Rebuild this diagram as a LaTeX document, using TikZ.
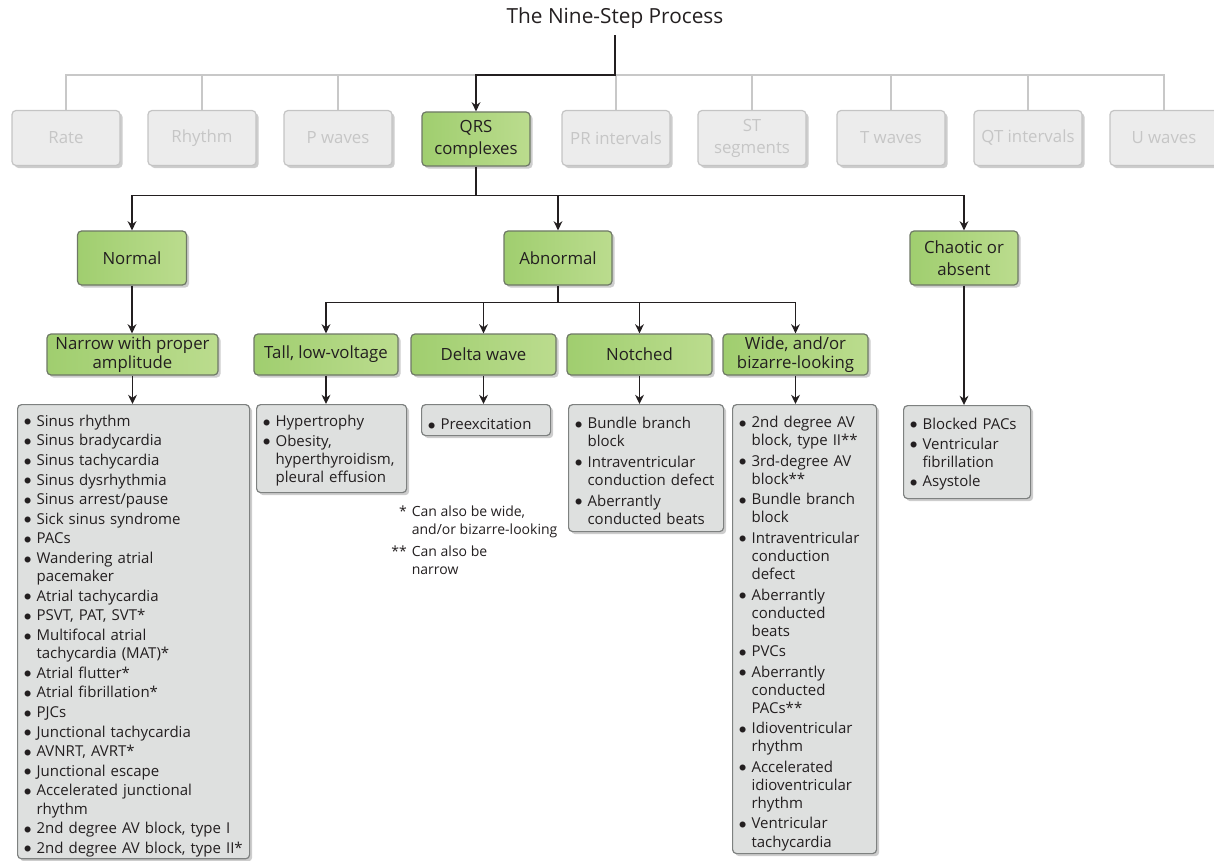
\documentclass[tikz,border=0pt]{standalone}
\usepackage{fontspec}
\setmainfont{Open Sans}
\usepackage{xcolor}
\usetikzlibrary{arrows.meta,shadows,positioning}

\definecolor{ink}{HTML}{231F20}
\definecolor{greyline}{HTML}{C8C8C8}
\definecolor{greyfill}{HTML}{ECECEC}
\definecolor{greyedge}{HTML}{C4C4C4}
\definecolor{greytext}{HTML}{C6C6C6}
\definecolor{greenL}{HTML}{A0CE6F}
\definecolor{greenR}{HTML}{BBDC8E}
\definecolor{greenedge}{HTML}{6E7866}
\definecolor{listfill}{HTML}{DEE0DF}
\definecolor{listedge}{HTML}{7E8180}
\definecolor{shade}{HTML}{CDCDCD}

\newcommand{\titlesize}{\fontsize{10.4}{12}\selectfont}
\newcommand{\boxsize}{\fontsize{8.4}{11}\selectfont}
\newcommand{\tightsize}{\fontsize{8.4}{9.5}\selectfont}
\newcommand{\listsize}{\fontsize{7.5}{9.1}\selectfont}
\newcommand{\notesize}{\fontsize{7}{9}\selectfont}
\newcommand{\itemgap}{0.7pt}
\newcommand{\bitem}[1]{\par\parskip=\itemgap\hangindent=6.5pt\hangafter=1\noindent
  \makebox[6.5pt][l]{\raisebox{0.05ex}{$\bullet$}}#1\par}

\tikzset{
  shadowed/.style={drop shadow={shadow xshift=1.3pt,shadow yshift=-1.3pt,fill=shade,opacity=1}},
  greybox/.style={draw=greyedge,fill=greyfill,text=greytext,rounded corners=2pt,line width=0.6pt,
    minimum width=54pt,minimum height=27.5pt,align=center,font=\boxsize,inner sep=1pt,shadowed},
  greenbox/.style={draw=greenedge,left color=greenL,right color=greenR,text=ink,rounded corners=2pt,
    line width=0.6pt,align=center,font=\boxsize,inner sep=1pt,shadowed},
  subbox/.style={greenbox,font=\tightsize,minimum height=20.5pt,minimum width=72.5pt},
  listbox/.style={draw=listedge,fill=listfill,text=ink,rounded corners=2pt,line width=0.6pt,
    anchor=north west,align=left,font=\listsize,inner xsep=3pt,inner ysep=1pt,shadowed},
  greyconn/.style={draw=greyline,line width=0.8pt},
  conn/.style={draw=ink,line width=0.75pt},
  arr/.style={conn,-{Stealth[length=4.6pt,width=4.4pt]}}
}

\begin{document}
\begin{tikzpicture}[x=0.5pt,y=-0.5pt]
\useasboundingbox (0,0) rectangle (1214,861);

\node[font=\titlesize,text=ink] (title) at (615,18) {The Nine-Step Process};
\coordinate (hub) at (615,75);

\node[greybox] (rate) at (66,138) {Rate};
\node[greybox] (rhythm) at (202,138) {Rhythm};
\node[greybox] (pw) at (338,138) {P waves};
\node[greenbox,minimum width=54pt,minimum height=27pt] (qrs) at (476,139) {QRS\\complexes};
\node[greybox] (pr) at (616,138) {PR intervals};
\node[greybox] (st) at (752,138) {ST\\segments};
\node[greybox] (tw) at (891,138) {T waves};
\node[greybox] (qt) at (1028,138) {QT intervals};
\node[greybox] (uw) at (1164,138) {U waves};

\draw[greyconn] (rate.north) |- (uw.north |- hub) -- (uw.north);
\foreach \n in {rhythm,pw,pr,st,tw,qt}
  \draw[greyconn] (\n.north |- hub) -- (\n.north);
\draw[arr] (title.south) -- (hub) -| (qrs.north);

\node[greenbox,minimum width=54.5pt,minimum height=27pt] (normal) at (132,258) {Normal};
\node[greenbox,minimum width=54pt,minimum height=27pt] (abnormal) at (558,258) {Abnormal};
\node[greenbox,minimum width=54pt,minimum height=27pt] (chaotic) at (964,258) {Chaotic or\\absent};

\draw[conn] (qrs.south) -- ++(0,29) coordinate (qbus);
\draw[arr] (qbus) -| (normal.north);
\draw[arr] (qbus) -| (abnormal.north);
\draw[arr] (qbus) -| (chaotic.north);

\node[subbox,minimum width=85.5pt] (narrow) at (132.5,354.5) {Narrow with proper\\amplitude};
\node[subbox,minimum width=72pt] (tall) at (326,354.5) {Tall, low-voltage};
\node[subbox] (delta) at (483.5,354.5) {Delta wave};
\node[subbox] (notched) at (639.5,354.5) {Notched};
\node[subbox] (wide) at (795.5,354.5) {Wide, and/or\\bizarre-looking};

\draw[arr] (normal.south) -- (normal.south |- narrow.north);
\draw[conn] (abnormal.south) -- ++(0,17) coordinate (abus);
\foreach \n in {tall,delta,notched,wide}
  \draw[arr] (abus) -| (\n.north);

\node[listbox,text width=110pt] (nlist) at (17,404) {%
\bitem{Sinus rhythm}
\bitem{Sinus bradycardia}
\bitem{Sinus tachycardia}
\bitem{Sinus dysrhythmia}
\bitem{Sinus arrest/pause}
\bitem{Sick sinus syndrome}
\bitem{PACs}
\bitem{Wandering atrial\newline pacemaker}
\bitem{Atrial tachycardia}
\bitem{PSVT, PAT, SVT*}
\bitem{Multifocal atrial\newline tachycardia (MAT)*}
\bitem{Atrial flutter*}
\bitem{Atrial fibrillation*}
\bitem{PJCs}
\bitem{Junctional tachycardia}
\bitem{AVNRT, AVRT*}
\bitem{Junctional escape}
\bitem{Accelerated junctional\newline rhythm}
\bitem{2nd degree AV block, type I}
\bitem{2nd degree AV block, type II*}};

\node[listbox,text width=69pt,minimum height=44pt] (tlist) at (256,404) {%
\bitem{Hypertrophy}
\bitem{Obesity,\newline hyperthyroidism,\newline pleural effusion}\vspace{2pt}};

\node[listbox,text width=58.5pt,minimum height=15.5pt] (dlist) at (421,404) {%
\bitem{Preexcitation}};

\node[listbox,text width=71.5pt,minimum height=63.5pt] (olist) at (568,404) {%
\renewcommand{\itemgap}{1.2pt}%
\bitem{Bundle branch\newline block}
\bitem{Intraventricular\newline conduction defect}
\bitem{Aberrantly\newline conducted beats}\vspace{2pt}};

\node[listbox,text width=66pt,minimum height=224.5pt] (wlist) at (732,404) {%
\renewcommand{\itemgap}{1.05pt}%
\bitem{2nd degree AV\newline block, type II**}
\bitem{3rd-degree AV\newline block**}
\bitem{Bundle branch\newline block}
\bitem{Intraventricular\newline conduction\newline defect}
\bitem{Aberrantly\newline conducted\newline beats}
\bitem{PVCs}
\bitem{Aberrantly\newline conducted\newline PACs**}
\bitem{Idioventricular\newline rhythm}
\bitem{Accelerated\newline idioventricular\newline rhythm}
\bitem{Ventricular\newline tachycardia}};

\node[listbox,text width=57.5pt,minimum height=46.5pt] (clist) at (903,405) {%
\bitem{Blocked PACs}
\bitem{Ventricular\newline fibrillation}
\bitem{Asystole}\vspace{2pt}};

\draw[arr] (narrow.south) -- (narrow.south |- nlist.north);
\draw[arr] (tall.south) -- (tall.south |- tlist.north);
\draw[arr] (delta.south) -- (delta.south |- dlist.north);
\draw[arr] (notched.south) -- (notched.south |- olist.north);
\draw[arr] (wide.south) -- (wide.south |- wlist.north);
\draw[arr] (chaotic.south) -- (chaotic.south |- clist.north);

\node[anchor=north west,font=\notesize,text=ink,inner sep=0pt] (notes) at (391,503) {%
\begin{tabular}{@{}r@{\hspace{2.5pt}}l@{}}
* & Can also be wide,\\
  & and/or bizarre-looking\\[2pt]
** & Can also be\\
  & narrow
\end{tabular}};
\end{tikzpicture}
\end{document}
